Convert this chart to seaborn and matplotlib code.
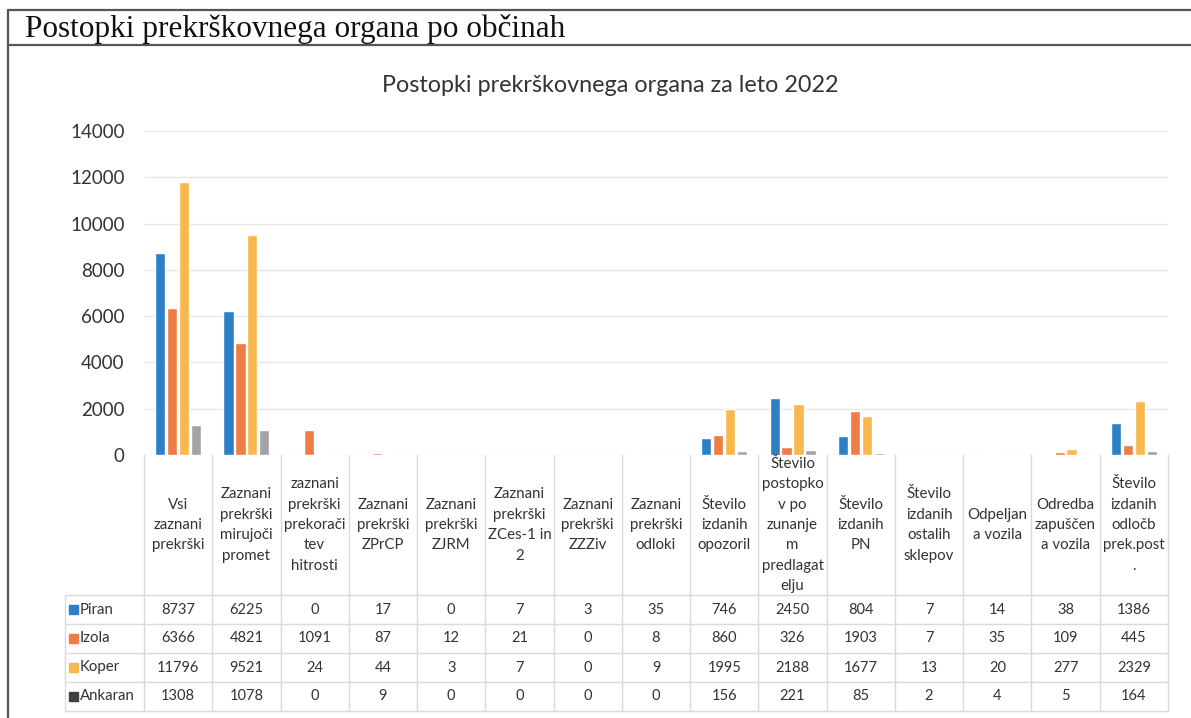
import matplotlib
matplotlib.use("Agg")
import matplotlib.pyplot as plt
import seaborn as sns
import pandas as pd
from matplotlib.lines import Line2D
from matplotlib.patches import Rectangle

# ---------------- data ----------------
categories = [
    "Vsi\nzaznani\nprekrški",
    "Zaznani\nprekrški\nmirujoči\npromet",
    "zaznani\nprekrški\nprekorači\ntev\nhitrosti",
    "Zaznani\nprekrški\nZPrCP",
    "Zaznani\nprekrški\nZJRM",
    "Zaznani\nprekrški\nZCes-1 in\n2",
    "Zaznani\nprekrški\nZZZiv",
    "Zaznani\nprekrški\nodloki",
    "Število\nizdanih\nopozoril",
    "Število\npostopko\nv po\nzunanje\nm\npredlagat\nelju",
    "Število\nizdanih\nPN",
    "Število\nizdanih\nostalih\nsklepov",
    "Odpeljan\na vozila",
    "Odredba\nzapuščen\na vozila",
    "Število\nizdanih\nodločb\nprek.post\n.",
]
series_names = ["Piran", "Izola", "Koper", "Ankaran"]
piran = [8737, 6225, 0, 17, 0, 7, 3, 35, 746, 2450, 804, 7, 14, 38, 1386]
izola = [6366, 4821, 1091, 87, 12, 21, 0, 8, 860, 326, 1903, 7, 35, 109, 445]
koper = [11796, 9521, 24, 44, 3, 7, 0, 9, 1995, 2188, 1677, 13, 20, 277, 2329]
ankaran = [1308, 1078, 0, 9, 0, 0, 0, 0, 156, 221, 85, 2, 4, 5, 164]
yticks = [0, 2000, 4000, 6000, 8000, 10000, 12000, 14000]

page_title = "Postopki prekrškovnega organa po občinah"
chart_title = "Postopki prekrškovnega organa za leto 2022"

colors = ["#2E80C6", "#EE7C45", "#F9B84C", "#A3A3A3"]

values = [piran, izola, koper, ankaran]
rows = []
for name, vals in zip(series_names, values):
    for c, v in zip(categories, vals):
        rows.append({"cat": c, "val": v, "obcina": name})
df = pd.DataFrame(rows)

# ---------------- style ----------------
sns.set_theme(style="white")
plt.rcParams["font.family"] = ["Lato", "DejaVu Sans"]

W, H = 1191, 718
fig = plt.figure(figsize=(W / 100, H / 100), dpi=100)
fig.patch.set_facecolor("white")

def fx(px):
    return px / W

def fy(py):
    return 1 - py / H

txt_c = "#333333"

# plot area (pixel coordinates)
x0, x1 = 144, 1168
y_top, y_zero = 131, 455
ax = fig.add_axes([fx(x0), fy(y_zero), fx(x1 - x0), (y_zero - y_top) / H])

sns.barplot(data=df, x="cat", y="val", hue="obcina", order=categories,
            hue_order=series_names, palette=colors, width=0.7, gap=0.15,
            saturation=1, legend=False, ax=ax)
ax.set_xlim(-0.5, len(categories) - 0.5)
ax.set_ylim(0, 14000)
ax.set_yticks(yticks)
ax.set_yticklabels([str(t) for t in yticks], fontsize=13.5, color=txt_c)
ax.tick_params(axis="y", length=0, pad=14)
ax.set_xticks([])
ax.set_xlabel("")
ax.set_ylabel("")
for s in ax.spines.values():
    s.set_visible(False)
ax.yaxis.grid(True, color="#E6E6E6", linewidth=0.9)
ax.set_axisbelow(True)

# ---------------- data table ----------------
t_top, t_bot = 455, 711
row_top = 595
row_h = (t_bot - row_top) / 4
ax_t = fig.add_axes([fx(x0), fy(t_bot), fx(x1 - x0), (t_bot - t_top) / H])
ax_t.set_xlim(-0.5, len(categories) - 0.5)
ax_t.set_ylim(t_bot - t_top, 0)
ax_t.axis("off")

line_c = "#DADADA"
cw = (x1 - x0) / len(categories)
leg_left = (65 - x0) / cw - 0.5

for i in range(len(categories) + 1):
    ax_t.plot([i - 0.5, i - 0.5], [0, t_bot - t_top], color=line_c, lw=1.0,
              clip_on=False)
ax_t.plot([leg_left, leg_left], [row_top - t_top, t_bot - t_top], color=line_c,
          lw=1.0, clip_on=False)
for r in range(5):
    yy = row_top - t_top + r * row_h
    ax_t.plot([leg_left, len(categories) - 0.5], [yy, yy], color=line_c,
              lw=1.0, clip_on=False)

# category labels
lab_c = (row_top - t_top) / 2
for i, c in enumerate(categories):
    ax_t.text(i, lab_c, c, ha="center", va="center", fontsize=10.8,
              color=txt_c, linespacing=1.58, clip_on=False)

# values and legend keys
for r, (name, vals, col) in enumerate(zip(series_names, values, colors)):
    yc = row_top - t_top + (r + 0.5) * row_h
    for i, v in enumerate(vals):
        ax_t.text(i, yc, str(v), ha="center", va="center", fontsize=10.5,
                  color=txt_c, clip_on=False)
    key_x = leg_left + 4 / cw
    key_col = "#404040" if name == "Ankaran" else col
    ax_t.add_patch(Rectangle((key_x, yc - 4.5), 9 / cw, 9, color=key_col,
                             clip_on=False))
    ax_t.text(key_x + 11 / cw, yc, name, ha="left", va="center", fontsize=10.8,
              color=txt_c, clip_on=False)

# ---------------- titles / page frame ----------------
fig.text(fx(610), fy(85), chart_title, ha="center", va="center", fontsize=16.8,
         color=txt_c)
fig.text(fx(25), fy(29), page_title, ha="left", va="center", fontsize=22.5,
         family=["Liberation Serif", "DejaVu Serif"], color="#111111")
for yy in (10, 45):
    fig.add_artist(Line2D([fx(8), 1], [fy(yy), fy(yy)], color="#555555",
                          lw=1.6, transform=fig.transFigure))
fig.add_artist(Line2D([fx(8), fx(8)], [fy(10), 0], color="#555555", lw=1.6,
                      transform=fig.transFigure))

fig.savefig("out.png", dpi=100)
